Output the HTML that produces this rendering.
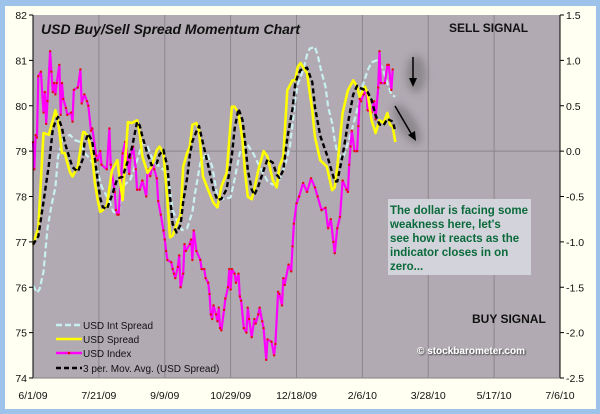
<!DOCTYPE html>
<html><head><meta charset="utf-8">
<style>
html,body{margin:0;padding:0;background:#9dc3ea;}
body{width:600px;height:414px;overflow:hidden;position:relative;font-family:"Liberation Sans",sans-serif;}
</style></head>
<body>
<svg id="chart" width="600" height="414" xmlns="http://www.w3.org/2000/svg" style="position:absolute;left:0;top:0">
<defs>
<filter id="blur" x="-50%" y="-50%" width="200%" height="200%"><feGaussianBlur stdDeviation="4"/></filter>
<filter id="sh" x="-10%" y="-30%" width="120%" height="160%"><feDropShadow dx="1" dy="1" stdDeviation="0.8" flood-color="#333"/></filter>
</defs>
<rect x="0" y="0" width="600" height="414" fill="#9dc3ea"/>
<rect x="5" y="6" width="591" height="403" fill="#fffff2"/>
<rect x="33" y="15" width="527" height="363" fill="#b2aab3"/>
<g id="grid"></g>
<g id="series"></g>
<g id="axes"></g>
<text x="41" y="34" font-size="14" font-weight="bold" font-style="italic" fill="#111">USD Buy/Sell Spread Momentum Chart</text>
<text x="449" y="32" font-size="12" font-weight="bold" fill="#111">SELL SIGNAL</text>
<text x="472" y="323" font-size="12" font-weight="bold" fill="#111">BUY SIGNAL</text>
<text x="417" y="354" font-size="10" font-weight="bold" fill="#fff" filter="url(#sh)">© stockbarometer.com</text>
<g>
<ellipse cx="416" cy="74" rx="10" ry="19" fill="#666" opacity="0.5" filter="url(#blur)"/>
<line x1="413" y1="57" x2="413" y2="80" stroke="#000" stroke-width="1.5"/>
<polygon points="409,78 417,78 413,87" fill="#000"/>
</g>
<g>
<ellipse cx="407" cy="124" rx="9" ry="23" transform="rotate(-32 407 124)" fill="#666" opacity="0.5" filter="url(#blur)"/>
<line x1="395" y1="106" x2="412" y2="135" stroke="#000" stroke-width="1.5"/>
<polygon points="408,135 415,131 416,141" fill="#000"/>
</g>
<g>
<rect x="388" y="199" width="143" height="76" fill="#d3d3dc"/>
<text font-size="11.5" font-weight="bold" fill="#0a6a3a">
<tspan x="390" y="214">The dollar is facing some</tspan>
<tspan x="390" y="228">weakness here, let's</tspan>
<tspan x="390" y="242">see how it reacts as the</tspan>
<tspan x="390" y="256">indicator closes in on</tspan>
<tspan x="390" y="270">zero...</tspan>
</text>
</g>
<g font-size="10" fill="#111">
<g><line x1="56" y1="325" x2="82" y2="325" stroke="#c8f0f0" stroke-width="2.5" stroke-dasharray="6,3"/><text x="83" y="329">USD Int Spread</text></g>
<g><line x1="56" y1="339" x2="82" y2="339" stroke="#ffff00" stroke-width="2.5"/><text x="83" y="343">USD Spread</text></g>
<g><line x1="56" y1="353" x2="82" y2="353" stroke="#ff00ff" stroke-width="2.5"/><circle cx="69" cy="353" r="1.3" fill="#e00"/><text x="83" y="357">USD Index</text></g>
<g><line x1="56" y1="368" x2="82" y2="368" stroke="#000" stroke-width="2.5" stroke-dasharray="5,3"/><text x="83" y="372">3 per. Mov. Avg. (USD Spread)</text></g>
</g>
</svg>
<script>
// Dates as day offsets from 6/1/09
const xTickLabels = ["6/1/09","7/21/09","9/9/09","10/29/09","12/18/09","2/6/10","3/28/10","5/17/10","7/6/10"];
const leftTicks = [74,75,76,77,78,79,80,81,82];
const rightTicks = [-2.5,-2.0,-1.5,-1.0,-0.5,0.0,0.5,1.0,1.5];

const indexDays = [0,1,2,3,4,6,8,9,10,11,13,14,15,16,17,18,20,21,22,23,25,26,29,30,31,34,36,37,39,41,42,44,45,48,49,51,52,56,58,59,62,63,64,65,68,70,71,73,74,76,78,79,81,83,86,87,89,91,92,94,95,97,99,100,101,102,105,106,107,108,110,111,112,114,115,116,119,120,121,122,124,127,128,130,131,133,134,135,136,137,139,140,141,142,143,145,146,148,149,150,151,153,154,156,157,158,160,162,163,164,166,168,169,171,172,174,175,177,178,181,183,184,186,187,189,190,191,194,196,197,198,200,202,205,208,211,214,216,219,222,224,226,228,229,231,233,235,238,239,240,241,242,244,246,247,248,249,251,253,254,257,259,260,262,263,264,267,269,270,272,273];
const indexVals = [79.2,78.6,79.35,79.3,80.65,80.75,79.85,80.3,79.6,80.1,81.2,80.75,80.3,80.5,80.25,80.5,80.9,79.8,80.5,80.15,79.95,79.8,79.85,79.65,80.35,80.4,80.8,80.05,80.25,80.1,80.0,79.45,79.5,78.9,78.8,79.0,78.7,78.6,79.5,78.7,78.1,77.7,77.6,77.6,78.95,79.2,79.05,78.5,78.85,79.1,78.6,78.15,78.15,78.35,78.0,78.6,78.45,78.75,78.6,78.4,77.9,77.6,77.25,77.05,76.8,76.6,76.55,76.4,76.3,76.2,76.45,76.7,76.0,76.3,76.95,76.8,76.95,77.05,76.6,77.25,76.8,76.6,76.4,76.4,76.2,76.1,75.85,75.4,75.3,75.6,75.4,75.25,75.55,75.1,75.05,75.5,75.75,76.0,76.4,75.95,76.4,76.3,76.1,76.3,75.8,75.7,75.1,75.0,75.55,75.3,74.9,75.3,75.2,75.4,75.55,75.25,75.1,74.4,74.85,74.8,74.5,74.75,75.9,75.85,75.6,76.2,76.05,76.5,76.35,76.9,77.4,77.85,78.0,78.3,78.1,78.4,78.2,78.0,77.7,77.75,77.3,77.5,77.0,76.75,77.3,77.55,78.35,78.15,78.1,78.7,79.1,79.45,79.0,79.0,79.55,80.15,80.1,80.25,80.35,79.9,79.85,80.1,79.7,80.4,81.2,80.5,80.5,80.9,80.9,80.35,80.8,80.3];

const spreadDays = [0,4,8,12,15,17,19,22,24,28,30,34,38,39,42,45,47,49,51,53,56,60,64,68,72,75,79,81,83,87,90,94,96,99,102,104,106,109,112,114,117,119,121,124,126,129,133,137,140,143,147,151,153,156,159,161,163,166,168,171,175,178,182,185,187,190,193,197,199,201,203,208,212,214,218,223,227,229,231,235,239,243,246,248,252,254,257,260,263,266,269,271,273,275];
const spreadVals = [-1.03,-0.85,0.2,0.18,0.34,0.45,0.34,-0.02,-0.02,-0.23,-0.28,-0.17,0.21,0.21,0.16,-0.06,-0.35,-0.53,-0.67,-0.65,-0.6,-0.21,-0.1,-0.54,0.32,0.31,0.34,0.2,-0.06,-0.24,-0.17,0.01,0.05,-0.02,-0.54,-0.95,-0.93,-0.81,-0.7,-0.17,-0.02,0.05,0.29,0.31,0.23,-0.28,-0.43,-0.57,-0.62,-0.39,-0.24,0.49,0.49,0.42,0.12,-0.24,-0.5,-0.53,-0.42,-0.21,0.0,-0.06,-0.32,-0.4,-0.17,-0.06,0.67,0.78,0.78,0.93,0.97,0.86,0.45,0.16,-0.1,-0.17,-0.43,-0.4,-0.17,0.42,0.67,0.78,0.71,0.6,0.71,0.64,0.34,0.2,0.34,0.31,0.42,0.29,0.27,0.1];

const intDays = [0,3,5,8,11,14,17,19,23,28,32,36,39,43,49,52,58,61,65,68,74,79,83,87,91,96,102,106,109,113,117,121,123,127,132,136,140,144,150,153,157,162,167,172,178,182,187,191,195,199,201,205,208,210,214,216,219,222,224,227,229,231,235,238,242,246,250,254,257,261,265,269,272,275];
const intVals = [-1.48,-1.56,-1.52,-1.33,-0.85,-0.6,-0.4,-0.06,0.14,0.18,0.12,0.1,-0.02,-0.08,-0.22,-0.39,-0.55,-0.67,-0.68,-0.39,-0.31,-0.1,0.09,0.05,-0.1,-0.17,-0.24,-0.65,-0.76,-0.87,-0.85,-0.67,-0.46,-0.13,-0.02,-0.17,-0.5,-0.53,-0.51,-0.31,-0.02,0.09,-0.02,-0.17,-0.33,-0.37,-0.31,-0.17,0.05,0.56,0.74,0.89,1.06,1.13,1.15,1.06,0.87,0.71,0.49,0.31,0.12,-0.02,-0.08,0.04,0.23,0.45,0.71,0.89,0.98,1.0,0.92,0.75,0.62,0.6];

const X0=33, X1=560, Y0=15, Y1=378, DAYS=400;
const xs = d => X0 + d/DAYS*(X1-X0);
const yL = v => Y1 - (v-74)/(82-74)*(Y1-Y0);
const yR = v => Y1 - (v+2.5)/4*(Y1-Y0);
const NS="http://www.w3.org/2000/svg";
function mk(tag, parent){const e=document.createElementNS(NS,tag);parent.appendChild(e);return e;}

const grid=document.getElementById('grid'), axes=document.getElementById('axes'), series=document.getElementById('series');

xTickLabels.forEach((t,i)=>{
  const x=xs(i*50);
  if(i>0&&i<xTickLabels.length-1){
    const g=mk('line',grid);
    
    
    g.setAttribute('x1',x);g.setAttribute('x2',x);g.setAttribute('y1',Y0);g.setAttribute('y2',Y1);
    g.setAttribute('stroke','#8a868a');g.setAttribute('stroke-width','1');
  }
  const tx=mk('text',axes);
  
  
  tx.setAttribute('x',x);tx.setAttribute('y',399);tx.setAttribute('text-anchor','middle');
  tx.setAttribute('font-size','10.5');tx.setAttribute('fill','#111');tx.textContent=t;
});
{
  const g=mk('line',grid);
  
  
  g.setAttribute('x1',X0);g.setAttribute('x2',X1);g.setAttribute('y1',yR(0));g.setAttribute('y2',yR(0));
  g.setAttribute('stroke','#8a868a');
}
[[X0,Y0,X0,Y1],[X1,Y0,X1,Y1],[X0,Y1,X1,Y1]].forEach(a=>{
  const l=mk('line',axes);
  
  
  l.setAttribute('x1',a[0]);l.setAttribute('y1',a[1]);l.setAttribute('x2',a[2]);l.setAttribute('y2',a[3]);
  l.setAttribute('stroke',a[0]===a[2]?'#000':'#808080');l.setAttribute('stroke-width','1');
});
leftTicks.forEach(v=>{
  const y=yL(v);
  const l=mk('line',axes);
  
  
  l.setAttribute('x1',X0-4);l.setAttribute('x2',X0);l.setAttribute('y1',y);l.setAttribute('y2',y);l.setAttribute('stroke','#000');
  const t=mk('text',axes);
  
  
  t.setAttribute('x',27);t.setAttribute('y',y+4);t.setAttribute('text-anchor','end');t.setAttribute('font-size','10.5');t.setAttribute('fill','#111');
  t.textContent=v;
});
rightTicks.forEach(v=>{
  const y=yR(v);
  const l=mk('line',axes);
  
  
  l.setAttribute('x1',X1);l.setAttribute('x2',X1+4);l.setAttribute('y1',y);l.setAttribute('y2',y);l.setAttribute('stroke','#000');
  const t=mk('text',axes);
  
  
  t.setAttribute('x',566);t.setAttribute('y',y+4);t.setAttribute('font-size','10.5');t.setAttribute('fill','#111');
  t.textContent=v.toFixed(1);
});

function path(days, vals, yf){return days.map((d,i)=>(i?'L':'M')+xs(d).toFixed(1)+','+yf(vals[i]).toFixed(1)).join(' ');}
function line(name, d, color, w, dash){
  const p=mk('path',series);
  
  
  p.setAttribute('d',d);p.setAttribute('fill','none');p.setAttribute('stroke',color);p.setAttribute('stroke-width',w);
  p.setAttribute('stroke-linejoin','round');
  if(dash)p.setAttribute('stroke-dasharray',dash);
  return p;
}
const maVals = spreadVals.map((v,i)=>{const a=spreadVals.slice(Math.max(0,i-2),i+1);return a.reduce((s,x)=>s+x,0)/a.length;});

line('int-spread-line', path(intDays,intVals,yR), '#c8f0f0', 2.2, '6,3');
line('usd-index-line', path(indexDays,indexVals,yL), '#ff00ff', 2.2);
indexDays.forEach((d,i)=>{
  const c=mk('circle',series);
  
  
  c.setAttribute('cx',xs(d));c.setAttribute('cy',yL(indexVals[i]));c.setAttribute('r','1.2');c.setAttribute('fill','#e01010');
});
line('usd-spread-line', path(spreadDays,spreadVals,yR), '#ffff00', 2.6);
line('moving-avg-line', path(spreadDays,maVals,yR), '#000', 2.4, '5,3');
</script>
</body></html>
